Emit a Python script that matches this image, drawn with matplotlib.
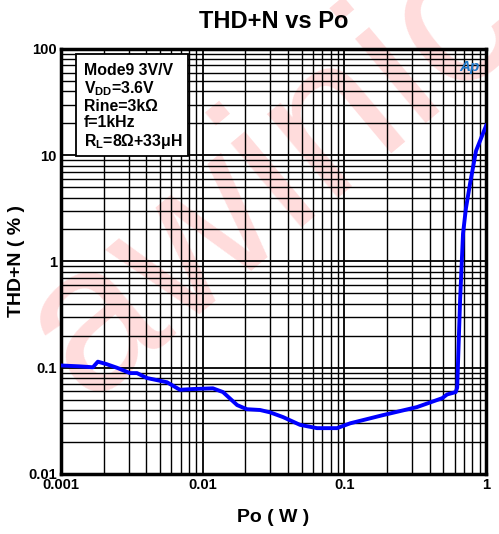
import numpy as np
import matplotlib.pyplot as plt
from matplotlib.patches import Rectangle
from matplotlib.ticker import LogLocator, FixedLocator, FixedFormatter, NullFormatter

plt.rcParams['font.family'] = ['Liberation Sans', 'DejaVu Sans']
plt.rcParams['font.weight'] = 'bold'
plt.rcParams['mathtext.fontset'] = 'custom'
plt.rcParams['mathtext.rm'] = 'Liberation Sans:bold'
plt.rcParams['mathtext.bf'] = 'Liberation Sans:bold'
plt.rcParams['mathtext.it'] = 'Liberation Sans:bold'
plt.rcParams['mathtext.default'] = 'bf'

# data
po = [0.001, 0.00135, 0.00168, 0.00182, 0.0021, 0.00248, 0.00307, 0.00344, 0.00404,
      0.0056, 0.0069, 0.0085, 0.0118, 0.0139, 0.0175, 0.0205, 0.0254, 0.0299, 0.0369,
      0.0486, 0.064, 0.0887, 0.11, 0.187, 0.325, 0.49, 0.53, 0.61, 0.625, 0.655,
      0.687, 0.72, 0.77, 0.849, 1.0]
thd = [0.105, 0.103, 0.101, 0.114, 0.108, 0.100, 0.089, 0.089, 0.080,
       0.073, 0.062, 0.063, 0.064, 0.059, 0.0445, 0.0407, 0.040, 0.038, 0.0343,
       0.029, 0.027, 0.027, 0.030, 0.0358, 0.0426, 0.0517, 0.056, 0.059, 0.065, 0.43,
       1.83, 3.15, 5.4, 11.0, 19.0]

xticks = [0.001, 0.01, 0.1, 1]
xlabels = ['0.001', '0.01', '0.1', '1']
yticks = [0.01, 0.1, 1, 10, 100]
ylabels = ['0.01', '0.1', '1', '10', '100']

info = ['Mode9 3V/V', 'V$_{DD}$=3.6V', 'Rine=3k\u03a9', 'f=1kHz',
        'R$_{L}$=8\u03a9+33\u03bcH']

fig = plt.figure(figsize=(4.99, 5.34), dpi=100)
ax = fig.add_axes([0.1222, 0.1124, 0.852, 0.7959])
ax.patch.set_alpha(0)

ax.plot(po, thd, color='#0000ff', lw=2.8, zorder=5)
ax.set_xscale('log')
ax.set_yscale('log')
ax.set_xlim(0.001, 1)
ax.set_ylim(0.01, 100)

ax.xaxis.set_major_locator(FixedLocator(xticks))
ax.xaxis.set_major_formatter(FixedFormatter(xlabels))
ax.yaxis.set_major_locator(FixedLocator(yticks))
ax.yaxis.set_major_formatter(FixedFormatter(ylabels))
ax.xaxis.set_minor_locator(LogLocator(base=10, subs=np.arange(2, 10)))
ax.yaxis.set_minor_locator(LogLocator(base=10, subs=np.arange(2, 10)))
ax.xaxis.set_minor_formatter(NullFormatter())
ax.yaxis.set_minor_formatter(NullFormatter())

ax.grid(True, which='major', color='black', lw=1.3)
ax.grid(True, which='minor', color='black', lw=1.0)
ax.tick_params(which='both', length=0, labelsize=10.7, pad=3)
for lab in ax.get_xticklabels() + ax.get_yticklabels():
    lab.set_fontweight('bold')
for s in ax.spines.values():
    s.set_linewidth(2.5)

fig.text(0.548, 1 - 21 / 534, 'THD+N vs Po', fontsize=17, fontweight='bold',
         ha='center', va='center')
ax.set_xlabel('Po ( W )', fontsize=14, fontweight='bold')
ax.set_ylabel('THD+N ( % )', fontsize=14, fontweight='bold')
ax.xaxis.set_label_coords(0.5, -0.082)
ax.yaxis.set_label_coords(-0.084, 0.5)

# condition box
ax.add_patch(Rectangle((0.0353, 0.748), 0.2635, 0.24, transform=ax.transAxes,
                       fc='white', ec='black', lw=1.3, zorder=6))
ax.text(0.054, 0.864, '\n'.join(info), transform=ax.transAxes, va='center', ha='left',
        fontsize=11.4, fontweight='bold', linespacing=1.1, zorder=7)

# Ap logo
ax.text(0.96, 0.958, 'Ap', transform=ax.transAxes, ha='center', va='center',
        fontsize=11, color='#1f78c8', style='italic', zorder=6)

# watermark
fig.text(0.547, 0.672, 'awinic', rotation=40, color='red', alpha=0.14, fontsize=150,
         ha='center', va='center', fontweight='normal', zorder=-1,
         rotation_mode='anchor')

fig.savefig('out.png', dpi=100)
